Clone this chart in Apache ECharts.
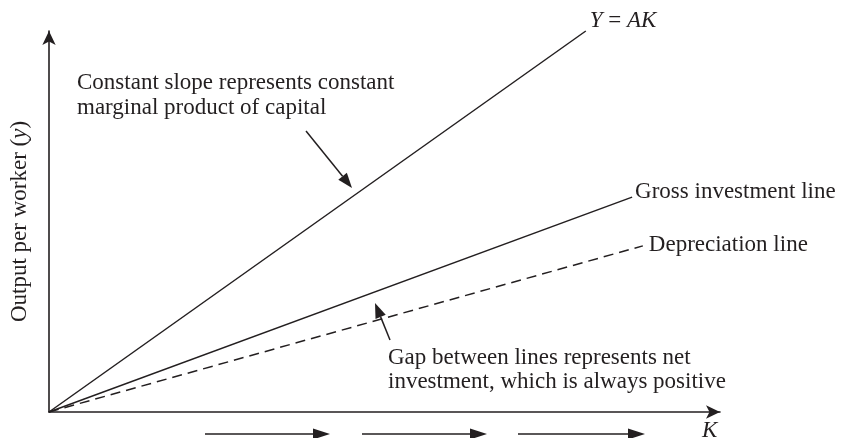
<!DOCTYPE html>
<html lang="en">

<head>
    <meta charset="UTF-8">
    <title>AK model</title>
    <style>
        html, body { margin: 0; padding: 0; background: #fff; }
        #chart { width: 845px; height: 438px; }
    </style>
</head>

<body>
    <div id="chart"></div>
</body>

<script src="https://cdn.jsdelivr.net/npm/echarts@6/dist/echarts.min.js"></script>
<script>
    // line data (capital K, output / investment)
    const akK = [0, 8.0];
    const akY = [0, 10.0];
    const grossK = [0, 8.69];
    const grossY = [0, 5.64];
    const depK = [0, 8.85];
    const depY = [0, 4.36];

    const lineNames = ['{i|Y} = {i|AK}', 'Gross investment line', 'Depreciation line'];

    const ink = '#231f20';
    const serif = 'Liberation Serif, Times New Roman, serif';

    function pairs(xs, ys) {
        return xs.map(function (x, i) { return [x, ys[i]]; });
    }

    // arrow drawn as a line plus a filled head
    function arrow(x1, y1, x2, y2, len, half) {
        let dx = x2 - x1, dy = y2 - y1;
        let d = Math.sqrt(dx * dx + dy * dy);
        let ux = dx / d, uy = dy / d;
        let bx = x2 - ux * len, by = y2 - uy * len;
        return [
            { type: 'line', shape: { x1: x1, y1: y1, x2: bx, y2: by }, style: { stroke: ink, lineWidth: 1.5 } },
            {
                type: 'polygon',
                shape: { points: [[x2, y2], [bx - uy * half, by + ux * half], [bx + uy * half, by - ux * half]] },
                style: { fill: ink }
            }
        ];
    }

    function textEl(x, y, text, lh) {
        return {
            type: 'text', x: x, y: y,
            style: { text: text, fill: ink, font: '23px ' + serif, lineHeight: lh, verticalAlign: 'top' }
        };
    }

    function getOption() {
        let graphics = [];
        graphics = graphics.concat(arrow(306, 131, 352, 188, 15, 5.5));
        graphics = graphics.concat(arrow(390, 340, 375, 303, 15, 5.5));
        graphics = graphics.concat(arrow(205, 434, 330, 434, 17, 5.5));
        graphics = graphics.concat(arrow(362, 434, 487, 434, 17, 5.5));
        graphics = graphics.concat(arrow(518, 434, 645, 434, 17, 5.5));
        graphics.push(textEl(77, 70, 'Constant slope represents constant\nmarginal product of capital', 25));
        graphics.push(textEl(388, 346, 'Gap between lines represents net\ninvestment, which is always positive', 24));
        graphics.push({
            type: 'text', x: 702, y: 419,
            style: { text: 'K', fill: ink, font: 'italic 23px ' + serif, verticalAlign: 'top' }
        });

        let lineStyle = { color: ink, width: 1.5 };
        let labelBase = { show: true, color: ink, fontFamily: serif, fontSize: 23, rich: { i: { fontStyle: 'italic', fontFamily: serif, fontSize: 23, color: ink } } };

        return {
            animation: false,
            grid: { left: 48, right: 125, top: 31, bottom: 26 },
            xAxis: {
                type: 'value', min: 0, max: 10,
                axisLine: { lineStyle: { color: ink, width: 1.6 }, symbol: ['none', 'arrow'], symbolSize: [10, 14] },
                axisTick: { show: false }, axisLabel: { show: false }, splitLine: { show: false }
            },
            yAxis: {
                type: 'value', min: 0, max: 10,
                name: 'Output per worker ({i|y})', nameLocation: 'middle', nameGap: 18, nameRotate: 90,
                nameTextStyle: { color: ink, fontFamily: serif, fontSize: 23, rich: { i: { fontStyle: 'italic', fontFamily: serif, fontSize: 23, color: ink } } },
                axisLine: { lineStyle: { color: ink, width: 1.6 }, symbol: ['none', 'arrow'], symbolSize: [10, 14] },
                axisTick: { show: false }, axisLabel: { show: false }, splitLine: { show: false }
            },
            series: [
                {
                    type: 'line', data: pairs(akK, akY), showSymbol: false, clip: false, lineStyle: lineStyle,
                    endLabel: Object.assign({}, labelBase, { formatter: lineNames[0], distance: 4, offset: [0, -10] })
                },
                {
                    type: 'line', data: pairs(grossK, grossY), showSymbol: false, clip: false, lineStyle: lineStyle,
                    endLabel: Object.assign({}, labelBase, { formatter: lineNames[1], distance: 3, offset: [0, -5] })
                },
                {
                    type: 'line', data: pairs(depK, depY), showSymbol: false, clip: false,
                    lineStyle: { color: ink, width: 1.5, type: [10, 6] },
                    endLabel: Object.assign({}, labelBase, { formatter: lineNames[2], distance: 6, offset: [0, -1] })
                }
            ],
            graphic: graphics
        };
    }

    function initChart() {
        let myChart = echarts.init(document.getElementById('chart'));
        myChart.setOption(getOption());
        window.onresize = function () {
            myChart.resize();
        };
    }

    initChart();
</script>

</html>
